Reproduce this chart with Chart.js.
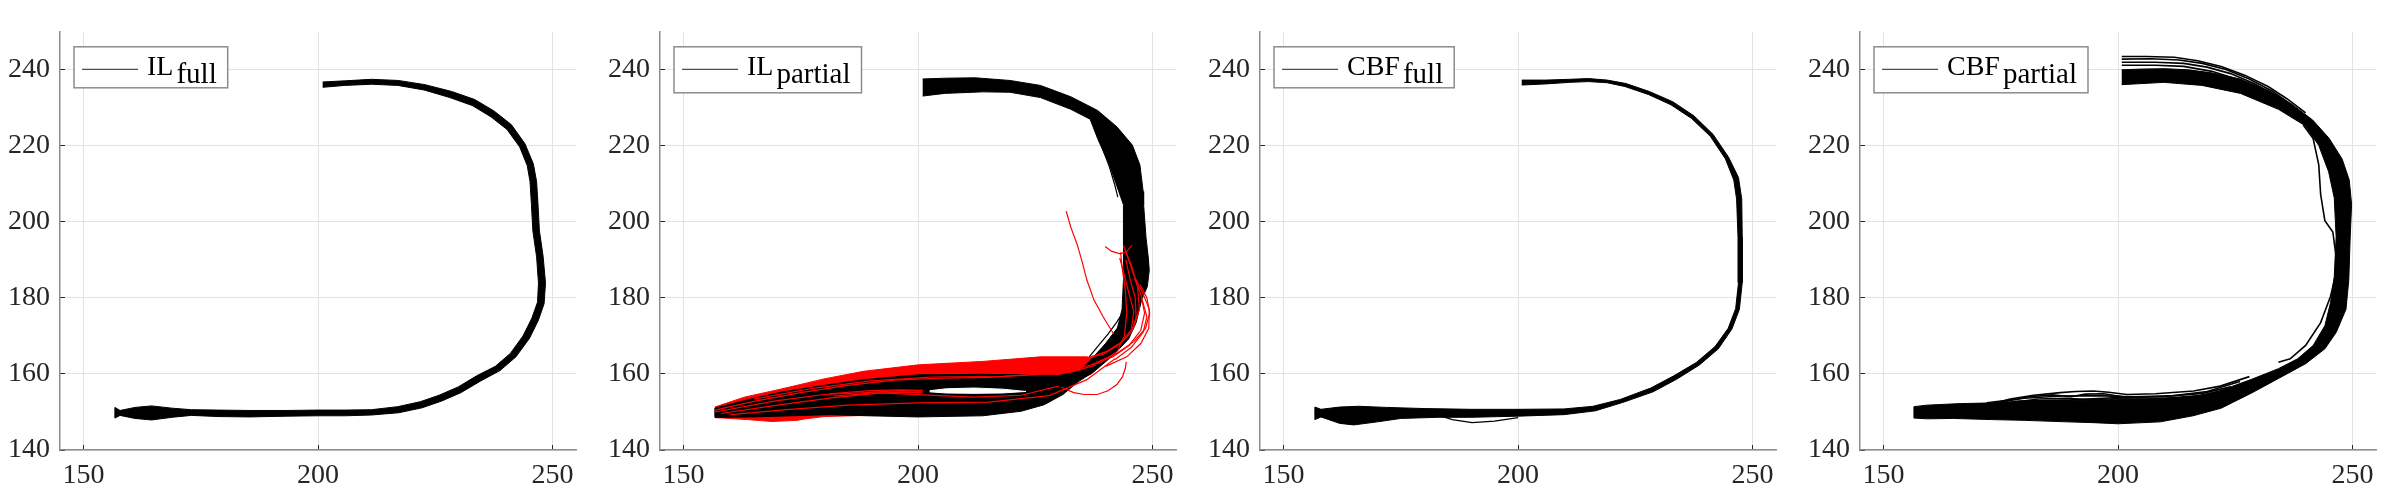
<!DOCTYPE html>
<html>
<head>
<meta charset="utf-8">
<script src="https://cdn.jsdelivr.net/npm/chart.js@4.4.1/dist/chart.umd.min.js"></script>
<style>
  body { margin: 0; background: #fff; }
  .row { display: flex; width: 2400px; height: 500px; }
  canvas { display: block; }
</style>
</head>
<body>
<div class="row">
  <canvas id="ilFull" width="600" height="500"></canvas>
  <canvas id="ilPartial" width="600" height="500"></canvas>
  <canvas id="cbfFull" width="600" height="500"></canvas>
  <canvas id="cbfPartial" width="600" height="500"></canvas>
</div>
<script>
const xTicks = [150, 200, 250];
const yTicks = [140, 160, 180, 200, 220, 240];
const legendMain = ['IL', 'IL', 'CBF', 'CBF'];
const legendSub = ['full', 'partial', 'full', 'partial'];

// outlines of the dense trajectory bundles, [x, y]
const ilFullBand = [
  [201.0,236.8],[205.7,237.1],[211.4,237.5],[217.1,237.2],[222.8,236.1],[228.5,234.3],[233.4,232.2],
  [237.5,229.2],[241.2,225.6],[244.1,220.6],[245.9,215.3],[246.6,210.6],[246.9,204.6],[247.2,197.7],
  [248.0,190.8],[248.5,183.9],[248.2,178.5],[247.0,174.2],[245.1,169.4],[242.2,164.5],[238.8,160.9],
  [234.6,158.1],[230.5,155.1],[226.4,152.9],[222.2,151.1],[217.2,149.8],[211.4,149.2],[205.7,149.0],
  [200.0,149.0],[193.4,148.9],[185.3,148.7],[178.7,148.8],[173.0,149.1],[168.9,148.6],[164.5,147.9],
  [161.0,148.3],[157.8,149.1],[156.7,148.4],[156.7,151.2],[157.8,150.4],[161.0,151.2],[164.5,151.6],
  [168.9,151.0],[173.0,150.6],[178.7,150.5],[185.3,150.4],[193.4,150.4],[200.0,150.5],[205.7,150.5],
  [211.4,150.6],[217.0,151.4],[221.8,152.7],[225.8,154.4],[229.9,156.6],[233.8,159.5],[237.8,162.0],
  [241.0,165.4],[243.7,170.0],[245.6,174.7],[246.8,178.9],[247.0,183.9],[246.6,190.8],[245.8,197.7],
  [245.5,204.6],[245.2,210.6],[244.6,214.8],[243.0,219.7],[240.3,224.3],[236.9,227.6],[232.9,230.6],
  [228.1,232.7],[222.6,234.7],[217.0,235.9],[211.4,236.2],[205.7,235.9],[201.0,235.4]
];

const ilPartialBand = [
  [201.0,237.6],[206,237.8],[212.2,237.9],[219.6,237.2],[226.1,235.9],[232.6,232.9],[238.3,229.3],
  [242.4,225.0],[245.7,220.2],[247.3,215.0],[248.0,208.0],[248.1,204.5],[248.6,196.0],[249.1,190.5],
  [249.3,187.3],[248.9,183.0],[247.7,179.6],[246.5,173.5],[244.9,169.2],[241.6,164.9],[237.5,160.6],
  [234.2,158.0],[230.9,154.6],[226.9,151.9],[222.0,150.2],[213.8,149.0],[200.0,148.7],[189.3,149.0],
  [181.2,149.3],[173.0,149.0],[164.9,148.7],[156.7,148.6],[156.7,151.0],[163,153.0],[170.7,155.2],
  [180,157.0],[188.4,158.5],[200.1,159.8],[213.8,159.9],[222,159.8],[230,159.6],[234.5,160.8],
  [237.1,164.1],[240,168.0],[242.5,172.0],[243.5,177.0],[243.9,187.3],[243.8,196.0],[243.8,204.5],
  [242.8,208.0],[240.8,215.0],[238.3,221.9],[236.7,227.0],[232.6,229.6],[226.1,232.7],[219.6,234.1],
  [213.8,234.2],[205.7,233.8],[201.0,233.1]
];
const ilPartialGap = [
  [202.5,155.6],[206,156.1],[212,156.3],[218,156.0],[223,155.4],[218,155.0],[212,154.9],[206,155.0],[202.5,155.3]
];
const ilPartialRedBand = [
  [156.7,151.3],[163,153.9],[170.7,156.0],[180,158.7],[188.4,160.7],[200.1,162.4],[213.8,163.3],
  [226.1,164.5],[236.0,164.5],[239.5,163.4],[237,160],[230,156.5],[222,152.5],[210,150],[195,149.3],
  [180,148.8],[176,148.2],[174.2,147.8],[168.9,147.5],[163.6,148.0],[158.5,148.4],[156.7,148.5]
];
// single failed (red) trajectories
const ilRedLines = [
  [[156.7,150.5],[165,152.8],[175,155.1],[185,157.0],[195,158.4],[205,158.9],[215,159.1],[225,159.8],[233,160.6],[238,162.4]],
  [[156.7,150],[170,153.0],[180,154.6],[189,155.1],[196,155.6],[201,155.5]],
  [[158,149.6],[170,151.8],[182,153.8],[192,155.0],[201,154.5],[212,153.9],[222,154.4],[230,156.8]],
  [[160,149.3],[172,150.6],[185,151.8],[200,152.4],[215,152.6],[228,154.3],[236,158.5],[242,164]],
  [[181,154.8],[190,155.6],[196,155.8],[201,155.7]],
  [[182,154.2],[190,154.9],[197,155.2],[201,155.0]],
  [[165,153.4],[178,156.3],[190,158.2],[203,159.2],[218,159.4],[230,160.2]],
  [[236,164.2],[240,165.8],[243.5,168.5],[246,172.5],[247.2,177],[246.8,183],[245.5,188.5],[244.2,192.5]],
  [[238,163.0],[242.5,165.5],[246,168.5],[248.5,172],[249.4,176],[248.8,180],[247.3,183.5]],
  [[240,162],[244.5,164.5],[247.5,168],[249.2,172],[249.3,177],[248,181],[246,186],[244.5,191.5],[243.8,193.8]],
  [[234,161.5],[239,163],[242.5,166],[244,170],[244.5,176],[244.2,182],[243.5,188],[243.2,192]],
  [[242,163.8],[245.5,167],[248,171],[248.8,175],[247.8,179.5]],
  [[235,163.8],[239.5,165.2],[243,167.8],[245.5,171],[246.5,175],[246.3,180],[245.2,185],[244.3,190]],
  [[237,162.5],[241.5,164.5],[245,167.5],[247.5,171.5],[248.3,176],[247.5,181],[246.2,185]],
  [[243,190.5],[244,186],[245,181],[246,176.5],[245.5,172]],
  [[231.6,202.8],[232.6,198.5],[233.9,194.2],[235,189.5],[236,184.7],[237.5,179.5],[239.5,175],[241.7,170.5]],
  [[239.9,193.5],[241.2,192.3],[243.1,191.6],[244.5,192.2],[245.6,193.8]],
  [[230.5,156.5],[233.2,155.1],[235.5,154.6],[238.2,154.6],[240.5,155.6],[242.4,157.2],[243.6,159.3],[244.2,161.5],[244.4,163.2]]
];
const ilBlackLines = [
  [[236.9,227.3],[238.2,223],[239.5,218.8],[240.8,214.5],[242,209.5],[242.6,206.5]],
  [[236.5,164.5],[238.5,167.5],[240.5,170.5],[242.3,173.5],[243.6,176]],
  [[237,163.5],[239,166.3],[241,169.5],[243,172.8],[243.8,175.5]]
];

const cbfFullBand = [
  [200.8,237.3],[206,237.3],[211,237.5],[215,237.7],[219,237.3],[223,236.4],[228,234.3],[233,231.6],
  [237.5,227.9],[241.6,223.0],[244.9,217.0],[247.0,211.7],[247.7,206],[247.8,196],[247.8,184],
  [247.2,177],[245.6,171.8],[242.7,166.6],[238.6,162.3],[233.8,158.6],[228.8,155.3],[222.3,152.5],
  [216.5,150.3],[209.8,149.3],[200,148.9],[190,148.6],[183,148.6],[175,148.3],[170,147.4],[165,146.6],
  [162,147.0],[158,148.7],[156.7,148.0],[156.7,151.3],[158,150.7],[162,151.3],[166,151.5],[172,151.2],
  [180,150.9],[190,150.7],[200,150.7],[209.8,150.8],[216,151.5],[221.8,153.3],[228.3,156.3],
  [233.2,159.5],[238.0,163.0],[242.0,167.2],[244.8,172.0],[246.4,177.2],[247.0,184],[246.9,196],
  [246.6,206],[246.0,211.0],[244.2,216.6],[241.0,222.5],[237.0,227.2],[232.6,230.8],[227.8,233.5],
  [222.8,235.6],[219,236.6],[215,236.9],[211,236.7],[206,236.3],[200.8,236.0]
];
const cbfFullLines = [
  [[183.6,148.9],[186,148],[190.2,147.2],[195,147.6],[200,148.5]]
];

const cbfPartialBand = [
  [200.8,240.0],[205,240.2],[210,240.3],[215,240.0],[220,239.2],[226,237.6],[232,234.6],[237,231.0],
  [241.5,226.8],[245,222.0],[247.8,216.5],[249.3,211.0],[249.8,204.6],[249.5,196.0],[249.2,184.7],
  [248.6,177.0],[246.5,170.9],[244.1,166.6],[240.0,162.7],[234.2,158.8],[228.5,155.0],[222.0,151.0],
  [216,149.0],[209,147.4],[200,146.9],[194.7,147.2],[189.3,147.4],[180,147.8],[173,148.0],[164.9,148.3],
  [159.3,148.2],[156.5,148.4],[156.5,151.4],[159.3,151.8],[166.4,152.2],[173.5,152.4],[180,152.9],
  [190,153.1],[200,153.2],[210,153.4],[216.1,154.0],[221.8,155.6],[228.5,158.6],[234.2,161.4],
  [238.3,164.0],[241.6,167.5],[244.1,172.7],[245.3,178.7],[246.1,185.6],[246.5,196.0],[246.1,206.3],
  [244.9,213.2],[242.8,220.1],[239.9,225.3],[234.2,229.6],[226.1,233.8],[217.9,235.9],[209.8,236.7],
  [200.8,236.1]
];
const cbfPartialLines = [
  [[200.8,243.5],[206,243.5],[212,243.3],[217,242.4],[222,240.9],[227,238.6],[232,235.6],[236,232.4],[240,228.7]],
  [[200.8,242.8],[207,242.9],[213,242.6],[218,241.7],[223,240.1],[228,237.6],[233,234.3],[237,230.8]],
  [[200.8,242.0],[208,242.0],[214,241.7],[219,240.7],[224,239.0],[229,236.4],[234,232.9]],
  [[200.8,241.2],[208,241.2],[214,240.9],[220,239.6],[226,237.3],[231,234.3]],
  [[239.5,225.5],[241.6,221.9],[242.8,215],[243.2,207.2],[244.1,200.3],[245.8,197.3],[246.5,190.8],
   [246.3,185.6],[245.3,180.4],[243.2,173.5],[240,167.5],[236.7,164],[234.2,163.1]],
  [[173.5,152.2],[177,153.4],[182,154.4],[187.7,155.1],[191,155.4],[194.7,155.5],[198,155.2],[201.9,154.6],
   [208,154.8],[216.1,155.5],[221.8,156.8],[228,159.3]],
  [[175,152.5],[181,154.0],[186,154.5],[190,154.0],[193,154.7],[197,154.8],[201,154.0],[210,154.1],[218,154.9],[224,156.6]],
  [[176,152.3],[183,153.4],[189,153.6],[194,153.2],[199,153.5],[206,153.4],[214,153.7],[222,155.0],[230,158.3]],
  [[178,152.8],[186,153.0],[192,152.8],[198,153.0],[205,153.2],[212,153.0],[220,153.9]],
  [[172,152.4],[180,153.6],[188,154.2],[196,154.3],[204,153.9],[212,154.3],[219,155.4],[226,158.0]],
  [[180,152.9],[190,153.2],[200,153.8],[210,153.6],[218,154.4],[225,156.3]]
];

const black = '#000000';
const red = '#ff0000';
const band = (data, color) => ({data, borderColor: color, backgroundColor: color, borderWidth: 1, fill: 'shape'});
const trace = (data, color, w) => ({data, borderColor: color, borderWidth: w || 1.2, fill: false});

const panels = [
  {id: 'ilFull', layers: [band(ilFullBand, black)]},
  {id: 'ilPartial', layers: [
    band(ilPartialRedBand, red),
    band(ilPartialBand, black),
    band(ilPartialGap, '#ffffff'),
    ...ilBlackLines.map(l => trace(l, black)),
    ...ilRedLines.map(l => trace(l, red))
  ]},
  {id: 'cbfFull', layers: [band(cbfFullBand, black), ...cbfFullLines.map(l => trace(l, black))]},
  {id: 'cbfPartial', layers: [band(cbfPartialBand, black), ...cbfPartialLines.map(l => trace(l, black, 1.6))]}
];

const serif = "'Liberation Serif', 'Times New Roman', serif";
const tickFont = {family: serif, size: 28};

// legend box with a subscripted label, like the matlab one
const legendBox = k => ({
  id: 'legendBox',
  afterDraw(chart) {
    const {ctx, chartArea} = chart;
    const x0 = chartArea.left + 14;
    const y0 = chartArea.top + 15;
    ctx.save();
    ctx.font = '28px ' + serif;
    const wMain = ctx.measureText(legendMain[k]).width;
    ctx.font = '29px ' + serif;
    const wSub = ctx.measureText(legendSub[k]).width;
    const w = 73 + wMain + 3 + wSub + 11;
    const h = legendSub[k].includes('p') ? 46 : 41;
    ctx.fillStyle = '#fff';
    ctx.fillRect(x0, y0, w, h);
    ctx.strokeStyle = '#8c8c8c';
    ctx.lineWidth = 1.5;
    ctx.strokeRect(x0, y0, w, h);
    ctx.strokeStyle = '#222';
    ctx.lineWidth = 1;
    ctx.beginPath();
    ctx.moveTo(x0 + 8, y0 + 22.5);
    ctx.lineTo(x0 + 64, y0 + 22.5);
    ctx.stroke();
    ctx.fillStyle = '#000';
    ctx.textBaseline = 'alphabetic';
    ctx.textAlign = 'left';
    ctx.font = '28px ' + serif;
    ctx.fillText(legendMain[k], x0 + 73, y0 + 28);
    ctx.font = '29px ' + serif;
    ctx.fillText(legendSub[k], x0 + 73 + wMain + 3, y0 + 36);
    ctx.restore();
  }
});

const axisGrid = {color: '#e2e2e2', lineWidth: 1, tickLength: -5, tickColor: '#262626', tickWidth: 1};
const axisBorder = {color: '#8c8c8c', width: 1.5};

panels.forEach((p, k) => {
  new Chart(document.getElementById(p.id), {
    type: 'line',
    data: {
      datasets: p.layers.map((d, i) => ({...d, order: -i, pointRadius: 0, tension: 0}))
    },
    options: {
      responsive: false,
      animation: false,
      events: [],
      layout: {padding: {top: 25, right: 24, left: 0, bottom: 0}},
      plugins: {legend: {display: false}, tooltip: {enabled: false}},
      scales: {
        x: {
          type: 'linear', min: 145, max: 255,
          afterBuildTicks: s => { s.ticks = xTicks.map(v => ({value: v})); },
          afterFit: s => { s.height = 50; },
          grid: axisGrid, border: axisBorder,
          ticks: {padding: 14, maxRotation: 0, font: tickFont, color: '#262626'}
        },
        y: {
          type: 'linear', min: 140, max: 250,
          afterBuildTicks: s => { s.ticks = yTicks.map(v => ({value: v})); },
          afterFit: s => { s.width = 60; },
          grid: axisGrid, border: axisBorder,
          ticks: {padding: 15, font: tickFont, color: '#262626'}
        }
      }
    },
    plugins: [legendBox(k)]
  });
});
</script>
</body>
</html>
